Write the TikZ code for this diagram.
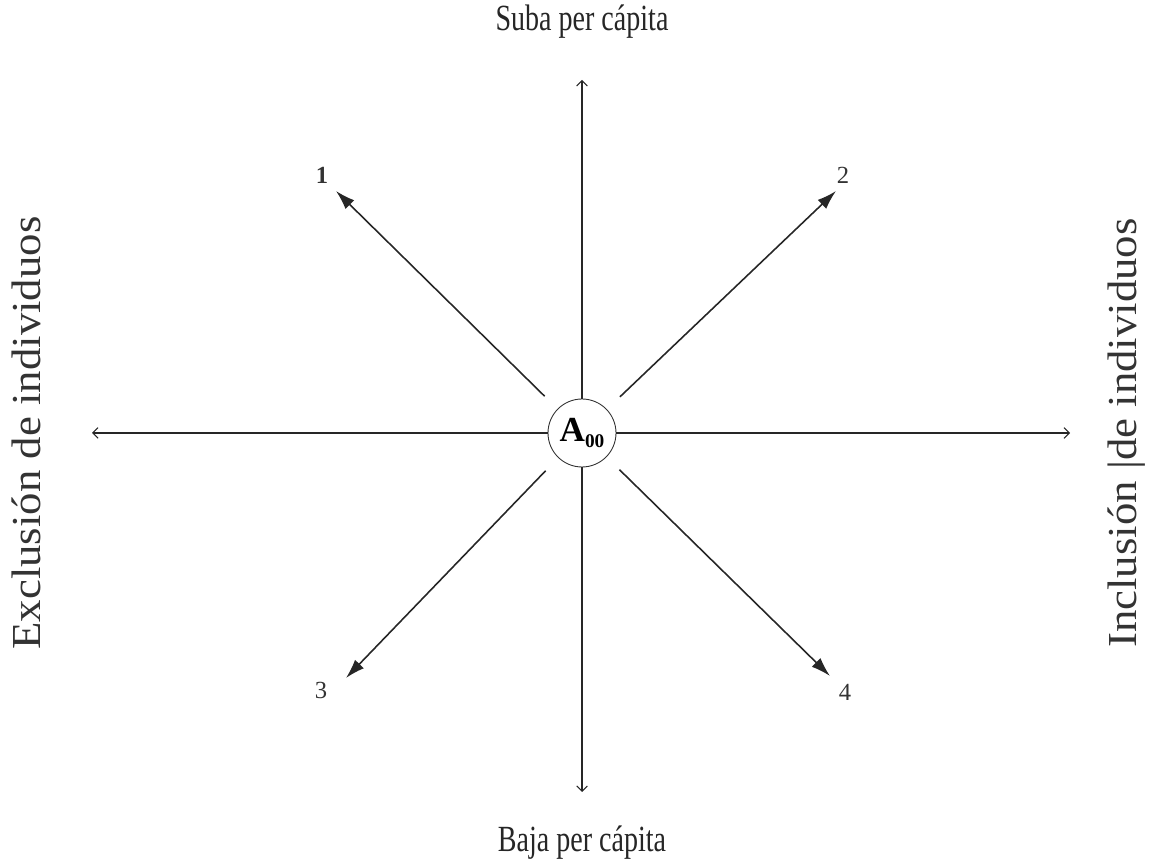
\documentclass[tikz,border=0pt]{standalone}
\usepackage{fontspec}
\setmainfont{Liberation Serif}
\usepackage{tikz}
\usetikzlibrary{arrows.meta}

\tikzset{
    axis/.style={draw=black!85, line width=0.6pt, -{Straight Barb[length=3pt, width=6pt]}},
    diag/.style={draw=black!85, line width=0.9pt, -{Latex[length=11pt, width=7pt]}, shorten <=0.36cm},
    axislabel/.style={font=\fontsize{21}{24}\selectfont, text=black!85},
    sidelabel/.style={font=\fontsize{25.5}{28}\selectfont, text=black!80, rotate=90},
    numlabel/.style={font=\fontsize{14}{16}\selectfont, text=black!80}
}

\begin{document}
\begin{tikzpicture}[x=0.02cm, y=0.02cm]
    \useasboundingbox (0,0) rectangle (1150,865);

    % Origin
    \node[draw=black!80, circle, line width=0.5pt, minimum size=1.36cm, inner sep=0pt,
          font=\fontsize{20}{20}\selectfont\bfseries] (a00) at (582,432) {A\raisebox{-0.35ex}{\fontsize{11}{11}\selectfont 00}};

    % Axis end points
    \coordinate (up) at (582,785);
    \coordinate (down) at (582,73);
    \coordinate (left) at (92,432);
    \coordinate (right) at (1070,432);

    \draw[axis] (a00) -- (up);
    \draw[axis] (a00) -- (down);
    \draw[axis] (a00) -- (left);
    \draw[axis] (a00) -- (right);

    % Axis labels
    \node[axislabel] (suba) at (582,843) {\scalebox{0.76}[1]{Suba per cápita}};
    \node[axislabel] (baja) at (582,22) {\scalebox{0.76}[1]{Baja per cápita}};
    \node[sidelabel] (excl) at (26,432) {\scalebox{1}[0.92]{Exclusión de individuos}};
    \node[sidelabel] (incl) at (1127,432) {\scalebox{1}[0.92]{Inclusión |de individuos}};

    % Diagonal directions
    \coordinate (t1) at (336,674);
    \coordinate (t2) at (836,674);
    \coordinate (t3) at (346,187);
    \coordinate (t4) at (830,189);

    \draw[diag] (a00) -- (t1);
    \draw[diag] (a00) -- (t2);
    \draw[diag] (a00) -- (t3);
    \draw[diag] (a00) -- (t4);

    \node[numlabel, font=\fontsize{14}{16}\selectfont\bfseries] (n1) at (322,690) {1};
    \node[numlabel] (n2) at (843,690) {2};
    \node[numlabel] (n3) at (321,175) {3};
    \node[numlabel] (n4) at (845,173) {4};
\end{tikzpicture}
\end{document}
